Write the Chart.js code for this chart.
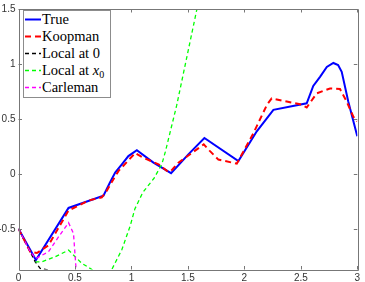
<!DOCTYPE html>
<html>
<head>
<meta charset="utf-8">
<script src="https://cdn.jsdelivr.net/npm/chart.js@4"></script>
<style>
  html, body { margin: 0; padding: 0; background: #fff; }
  #wrap { position: relative; width: 365px; height: 282px; }
  #legend {
    position: absolute; left: 23px; top: 10px; width: 86px; height: 86px;
    border: 1px solid #8c8c8c; background: #fff;
    font-family: "Liberation Serif", "Times New Roman", serif; font-size: 14.5px; color: #000;
  }
  .row { position: absolute; left: 0; height: 17px; line-height: 17px; white-space: nowrap; }
  .row svg { position: absolute; left: 1px; top: 0; }
  .row span { position: absolute; left: 18px; top: 0; }
  sub { font-size: 10px; vertical-align: -3px; line-height: 0; }
</style>
</head>
<body>
<div id="wrap">
  <canvas id="myChart" width="365" height="282"></canvas>
  <div id="legend"></div>
</div>
<script>
// tick values
const xTicks = [0, 0.5, 1, 1.5, 2, 2.5, 3];
const yTicks = [-0.5, 0, 0.5, 1, 1.5];

// series
const trueX = [0, 0.154, 0.443, 0.752, 0.81, 0.856, 0.915, 0.973, 1.048, 1.195, 1.351, 1.504, 1.646, 1.947, 2.11, 2.257, 2.552, 2.61, 2.67, 2.73, 2.788, 2.83, 2.862, 2.92, 3];
const trueY = [-0.5, -0.784, -0.31, -0.198, -0.078, 0.012, 0.087, 0.162, 0.216, 0.102, 0.006, 0.177, 0.327, 0.117, 0.387, 0.583, 0.642, 0.8, 0.883, 0.973, 1.009, 0.99, 0.928, 0.658, 0.342];

const koopX = [0, 0.104, 0.163, 0.265, 0.443, 0.62, 0.738, 0.782, 0.841, 0.886, 0.973, 1.033, 1.106, 1.24, 1.313, 1.345, 1.416, 1.535, 1.64, 1.696, 1.77, 1.933, 2.08, 2.2, 2.242, 2.375, 2.493, 2.552, 2.64, 2.758, 2.847, 2.906, 2.965, 3];
const koopY = [-0.5, -0.709, -0.72, -0.65, -0.333, -0.243, -0.213, -0.153, -0.048, 0.027, 0.123, 0.19, 0.147, 0.087, 0.027, 0.02, 0.102, 0.19, 0.268, 0.207, 0.13, 0.093, 0.37, 0.628, 0.687, 0.658, 0.633, 0.604, 0.732, 0.777, 0.772, 0.658, 0.52, 0.477];

const local0X = [0, 0.104, 0.148, 0.192, 0.265, 0.35];
const local0Y = [-0.5, -0.71, -0.8, -0.86, -0.874, -0.95];

const localX0X = [0.15, 0.207, 0.325, 0.443, 0.561, 0.65, 0.74, 0.826, 0.915, 0.99, 1.03, 1.1, 1.2, 1.27, 1.3, 1.4, 1.49, 1.58, 1.62];
const localX0Y = [-0.8, -0.8, -0.754, -0.694, -0.814, -0.87, -0.98, -0.87, -0.69, -0.47, -0.32, -0.17, -0.04, 0.09, 0.2, 0.62, 1.06, 1.5, 1.7];

const carlX = [0, 0.104, 0.154, 0.265, 0.354, 0.443, 0.487, 0.502, 0.51, 0.53];
const carlY = [-0.5, -0.71, -0.77, -0.709, -0.574, -0.444, -0.543, -0.754, -0.87, -1.0];

const labels = ['True', 'Koopman', 'Local at 0', 'Local at <i>x</i><sub>0</sub>', 'Carleman'];
const colors = ['#0000ff', '#ff0000', '#000000', '#00ff00', '#ff00ff'];
const widths = [2, 2, 1.3, 1.3, 1.3];
const dashes = [[], [6, 4], [4, 3], [4, 3], [4, 3]];

function zip(xs, ys) {
    return xs.map((x, i) => ({x: x, y: ys[i]}));
}

const series = [
    zip(trueX, trueY),
    zip(koopX, koopY),
    zip(local0X, local0Y),
    zip(localX0X, localX0Y),
    zip(carlX, carlY)
];

const data = {
    datasets: series.map((pts, i) => ({
        label: labels[i].replace(/<[^>]+>/g, ''),
        data: pts,
        borderColor: colors[i],
        borderWidth: widths[i],
        borderDash: dashes[i],
        pointRadius: 0,
        tension: 0,
        fill: false,
        clip: 0
    })).reverse()
};

//box and inward ticks on all four sides, like the matlab axes
const boxPlugin = {
    id: 'box',
    afterDraw(chart) {
        const ctx = chart.ctx;
        const a = chart.chartArea;
        const xs = chart.scales.x, ys = chart.scales.y;
        const len = 3.5;
        ctx.save();
        ctx.strokeStyle = '#777';
        ctx.lineWidth = 1;
        ctx.beginPath();
        ctx.rect(Math.round(a.left) + 0.5, Math.round(a.top) + 0.5, Math.round(a.right - a.left), Math.round(a.bottom - a.top));
        xTicks.forEach(v => {
            const px = Math.round(xs.getPixelForValue(v)) + 0.5;
            ctx.moveTo(px, a.bottom); ctx.lineTo(px, a.bottom - len);
            ctx.moveTo(px, a.top); ctx.lineTo(px, a.top + len);
        });
        yTicks.forEach(v => {
            const py = Math.round(ys.getPixelForValue(v)) + 0.5;
            ctx.moveTo(a.left, py); ctx.lineTo(a.left + len, py);
            ctx.moveTo(a.right, py); ctx.lineTo(a.right - len, py);
        });
        ctx.stroke();
        ctx.restore();
    }
};

const tickFont = {family: '"Liberation Sans", Arial, sans-serif', size: 10};
const plainNum = v => String(v);

const config = {
    type: 'line',
    data: data,
    options: {
        responsive: false,
        animation: false,
        layout: {padding: {left: 0, top: 6, right: 7.7, bottom: 0}},
        plugins: {legend: {display: false}, tooltip: {enabled: false}},
        scales: {
            x: {
                type: 'linear', min: 0, max: 3,
                grid: {display: false, drawTicks: false},
                border: {display: false},
                ticks: {font: tickFont, color: '#333', padding: 3, callback: plainNum},
                afterBuildTicks: s => { s.ticks = xTicks.map(v => ({value: v})); },
                afterFit: s => { s.height = 12.5; }
            },
            y: {
                type: 'linear', min: -0.87, max: 1.5,
                grid: {display: false, drawTicks: false},
                border: {display: false},
                ticks: {font: tickFont, color: '#333', padding: 3, callback: plainNum},
                afterBuildTicks: s => { s.ticks = yTicks.map(v => ({value: v})); },
                afterFit: s => { s.width = 18.5; }
            }
        }
    },
    plugins: [boxPlugin]
};

let myChart = new Chart(document.getElementById('myChart'), config);

// legend built from the same lists
const legend = document.getElementById('legend');
const rowCenters = [8, 25, 42, 59, 76];
labels.forEach((lab, i) => {
    const row = document.createElement('div');
    row.className = 'row';
    row.style.top = (rowCenters[i] - 8.5) + 'px';
    const dash = dashes[i].length ? ' stroke-dasharray="' + dashes[i].join(' ') + '"' : '';
    row.innerHTML = '<svg width="16" height="17"><line x1="0" y1="8.5" x2="16" y2="8.5" stroke="' + colors[i] +
        '" stroke-width="' + widths[i] + '"' + dash + '/></svg><span>' + lab + '</span>';
    legend.appendChild(row);
});
</script>
</body>
</html>
